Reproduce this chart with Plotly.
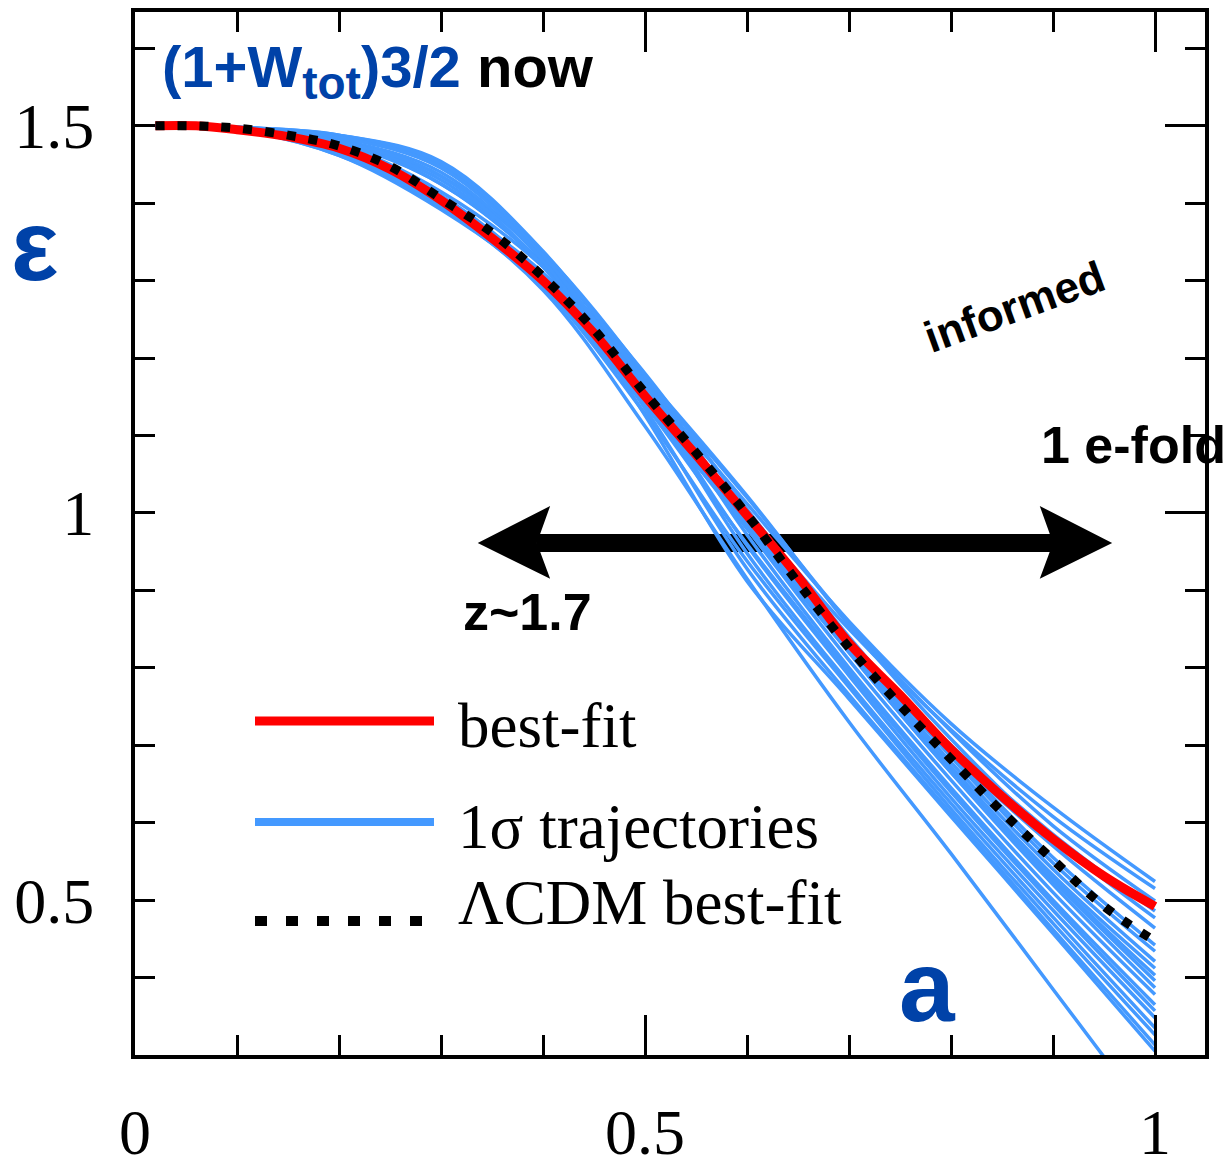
import plotly.graph_objects as go

# ---------------- data ----------------
a_fine = [0.02, 0.06, 0.10, 0.15, 0.20, 0.25, 0.30, 0.35, 0.40, 0.45, 0.50,
          0.55, 0.60, 0.65, 0.70, 0.75, 0.80, 0.85, 0.90, 0.95, 1.00]
best_fit = [1.500, 1.500, 1.495, 1.486, 1.471, 1.444, 1.404, 1.355, 1.300, 1.232, 1.151,
            1.075, 0.997, 0.918, 0.832, 0.765, 0.695, 0.634, 0.579, 0.531, 0.492]
lcdm_fit = [1.500, 1.500, 1.497, 1.488, 1.474, 1.448, 1.406, 1.362, 1.305, 1.237, 1.155,
            1.078, 0.998, 0.910, 0.826, 0.752, 0.682, 0.614, 0.552, 0.492, 0.447]

a_traj = [0.02, 0.10, 0.20, 0.30, 0.40, 0.50, 0.60, 0.70, 0.80, 0.90, 1.00]
trajectories = [
    [1.5, 1.496, 1.472, 1.405, 1.310, 1.165, 1.012, 0.860, 0.728, 0.620, 0.524],
    [1.5, 1.495, 1.468, 1.398, 1.298, 1.150, 1.000, 0.850, 0.720, 0.608, 0.515],
    [1.5, 1.496, 1.476, 1.415, 1.318, 1.172, 1.020, 0.858, 0.718, 0.596, 0.499],
    [1.5, 1.494, 1.466, 1.394, 1.292, 1.140, 0.985, 0.830, 0.700, 0.585, 0.486],
    [1.5, 1.497, 1.480, 1.425, 1.322, 1.176, 1.022, 0.855, 0.708, 0.580, 0.477],
    [1.5, 1.495, 1.462, 1.392, 1.296, 1.148, 0.990, 0.830, 0.690, 0.570, 0.464],
    [1.5, 1.497, 1.482, 1.435, 1.330, 1.180, 1.005, 0.840, 0.690, 0.555, 0.442],
    [1.5, 1.496, 1.474, 1.410, 1.306, 1.158, 0.995, 0.835, 0.685, 0.548, 0.434],
    [1.5, 1.498, 1.486, 1.446, 1.336, 1.178, 0.990, 0.830, 0.678, 0.540, 0.421],
    [1.5, 1.495, 1.462, 1.395, 1.292, 1.140, 0.985, 0.825, 0.672, 0.532, 0.412],
    [1.5, 1.497, 1.478, 1.425, 1.322, 1.165, 0.990, 0.825, 0.670, 0.528, 0.403],
    [1.5, 1.496, 1.468, 1.400, 1.298, 1.145, 0.980, 0.820, 0.665, 0.525, 0.396],
    [1.5, 1.498, 1.486, 1.450, 1.334, 1.172, 0.990, 0.820, 0.665, 0.520, 0.387],
    [1.5, 1.497, 1.480, 1.430, 1.320, 1.158, 0.980, 0.810, 0.655, 0.510, 0.378],
    [1.5, 1.498, 1.488, 1.454, 1.338, 1.168, 0.972, 0.800, 0.645, 0.500, 0.365],
    [1.5, 1.496, 1.470, 1.405, 1.300, 1.140, 0.960, 0.795, 0.640, 0.495, 0.357],
    [1.5, 1.497, 1.482, 1.440, 1.326, 1.155, 0.958, 0.790, 0.632, 0.487, 0.348],
    [1.5, 1.498, 1.488, 1.452, 1.332, 1.155, 0.948, 0.780, 0.625, 0.478, 0.335],
    [1.5, 1.496, 1.466, 1.398, 1.292, 1.128, 0.938, 0.775, 0.618, 0.470, 0.326],
    [1.5, 1.497, 1.480, 1.435, 1.318, 1.135, 0.928, 0.765, 0.612, 0.462, 0.313],
    [1.5, 1.498, 1.485, 1.446, 1.326, 1.126, 0.912, 0.760, 0.608, 0.457, 0.305],
    [1.5, 1.495, 1.464, 1.396, 1.288, 1.112, 0.915, 0.730, 0.560, 0.385, 0.210],
]

x_tickvals = [0, 0.5, 1]
x_ticktext = ["0", "0.5", "1"]
y_tickvals = [0.5, 1, 1.5]
y_ticktext = ["0.5", "1", "1.5"]

legend_labels = ["best-fit", "1σ trajectories", "ΛCDM best-fit"]

# ---------------- styles ----------------
BLUE = "#4499ff"
RED = "#ff0000"
TXT_BLUE = "#0042a8"
SERIF = "Liberation Serif, Times New Roman, serif"
SANS = "Liberation Sans, Arial, sans-serif"
XR = [0, 1.049]
YR = [0.3, 1.647]

fig = go.Figure()

for tr in trajectories:
    fig.add_trace(go.Scatter(x=a_traj, y=tr, mode="lines", name=legend_labels[1],
                             line=dict(color=BLUE, width=3.5, shape="spline"),
                             showlegend=False, hoverinfo="skip"))

fig.add_trace(go.Scatter(x=a_fine, y=best_fit, mode="lines", name=legend_labels[0],
                         line=dict(color=RED, width=9, shape="spline"), showlegend=False))
fig.add_trace(go.Scatter(x=a_fine, y=lcdm_fit, mode="lines", name=legend_labels[2],
                         line=dict(color="black", width=9, dash="9px,13px", shape="spline"),
                         showlegend=False))
# empty trace so that the mirrored (top / right) axes are drawn
fig.add_trace(go.Scatter(x=[None], y=[None], xaxis="x2", yaxis="y2", mode="lines",
                         showlegend=False, hoverinfo="skip"))

# ---------------- double arrow (annotation) ----------------
yc = 0.9613
hw = 0.0116
shapes = [
    dict(type="rect", xref="x", yref="y", x0=0.394, x1=0.900, y0=yc - hw, y1=yc + hw,
         fillcolor="black", line=dict(width=0), layer="below"),
    dict(type="path", xref="x", yref="y", layer="below", fillcolor="black", line=dict(width=0),
         path=f"M 0.336 {yc} L 0.407 1.009 L 0.394 {yc} L 0.407 0.915 Z"),
    dict(type="path", xref="x", yref="y", layer="below", fillcolor="black", line=dict(width=0),
         path=f"M 0.958 {yc} L 0.887 1.009 L 0.900 {yc} L 0.887 0.915 Z"),
]

# ---------------- manual legend ----------------
W, H = 1231, 1174
L, R, T, B = 135, 26, 12, 119
pw, ph = W - L - R, H - T - B


def px(xp):
    return (xp - L) / pw


def py(yp):
    return (H - B - yp) / ph


shapes += [
    dict(type="line", xref="paper", yref="paper", x0=px(255), x1=px(434), y0=py(721), y1=py(721),
         line=dict(color=RED, width=9)),
    dict(type="line", xref="paper", yref="paper", x0=px(255), x1=px(434), y0=py(822), y1=py(822),
         line=dict(color=BLUE, width=8)),
    dict(type="line", xref="paper", yref="paper", x0=px(255), x1=px(434), y0=py(921), y1=py(921),
         line=dict(color="black", width=10, dash="12px,19px")),
]

annotations = []
for lab, yb in zip(legend_labels, [746, 847, 923]):
    annotations.append(dict(text=lab, xref="paper", yref="paper", x=px(456), y=py(yb - 20),
                            xanchor="left", yanchor="middle", showarrow=False,
                            font=dict(family=SERIF, size=63, color="black")))

annotations += [
    dict(text=f'<span style="color:{TXT_BLUE}">(1+W<sub><span style="font-size:46px">tot</span></sub>)3/2</span> now',
         xref="paper", yref="paper", x=px(160), y=py(72), xanchor="left", yanchor="middle",
         showarrow=False, font=dict(family=SANS, size=58, color="black", weight="bold")),
    dict(text="ε", xref="paper", yref="paper", x=px(34), y=py(245), xanchor="center",
         yanchor="middle", showarrow=False,
         font=dict(family=SANS, size=100, color=TXT_BLUE, weight="bold")),
    dict(text="a", xref="paper", yref="paper", x=px(927), y=py(986), xanchor="center",
         yanchor="middle", showarrow=False,
         font=dict(family=SANS, size=100, color=TXT_BLUE, weight="bold")),
    dict(text="informed", xref="paper", yref="paper", x=px(1014), y=py(306), xanchor="center",
         yanchor="middle", showarrow=False, textangle=-20,
         font=dict(family=SANS, size=44, color="black", weight="bold")),
    dict(text="1 e-fold", xref="paper", yref="paper", x=px(1133), y=py(445), xanchor="center",
         yanchor="middle", showarrow=False,
         font=dict(family=SANS, size=52, color="black", weight="bold")),
    dict(text="z~1.7", xref="paper", yref="paper", x=px(527), y=py(612), xanchor="center",
         yanchor="middle", showarrow=False,
         font=dict(family=SANS, size=52, color="black", weight="bold")),
]

common_minor = dict(dtick=0.1, tick0=0, ticklen=20, tickwidth=3, ticks="inside", tickcolor="black")
tickfont = dict(family=SERIF, size=64, color="black")

fig.update_layout(
    width=W, height=H,
    margin=dict(l=L, r=R, t=T, b=B, autoexpand=False),
    paper_bgcolor="white", plot_bgcolor="white",
    showlegend=False,
    shapes=shapes,
    annotations=annotations,
    xaxis=dict(range=XR, tickvals=x_tickvals, ticktext=x_ticktext, ticks="inside", ticklen=40,
               tickwidth=3, tickcolor="black", showgrid=False, zeroline=False, showline=True,
               linecolor="black", linewidth=4, minor=common_minor, ticklabelstandoff=18,
               automargin=False, tickfont=tickfont),
    xaxis2=dict(range=XR, overlaying="x", anchor="y", side="top", tickvals=x_tickvals, ticks="inside",
                ticklen=40, tickwidth=3, tickcolor="black", showticklabels=False, showgrid=False,
                zeroline=False, showline=True, linecolor="black", linewidth=4, minor=common_minor,
                automargin=False),
    yaxis=dict(range=YR, tickvals=y_tickvals, ticktext=y_ticktext, ticks="inside", ticklen=20,
               tickwidth=3, tickcolor="black", showgrid=False, zeroline=False, showline=True,
               linecolor="black", linewidth=4, minor=common_minor, ticklabelstandoff=24,
               automargin=False, tickfont=tickfont),
    yaxis2=dict(range=YR, overlaying="y", anchor="x", side="right", tickvals=y_tickvals, ticks="inside",
                ticklen=40, tickwidth=3, tickcolor="black", showticklabels=False, showgrid=False,
                zeroline=False, showline=True, linecolor="black", linewidth=4, minor=common_minor,
                automargin=False),
)

fig.write_html("out.html")
